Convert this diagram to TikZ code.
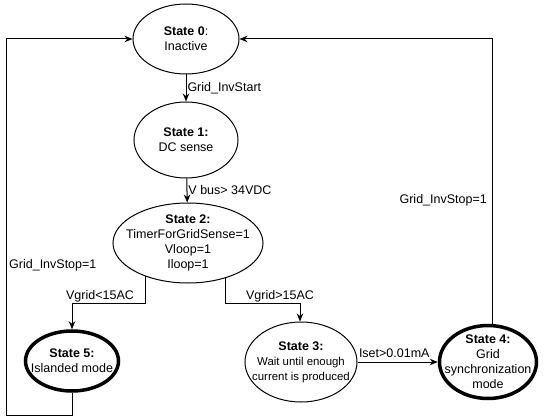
\documentclass[tikz,border=0pt]{standalone}
\usepackage{fontspec}
\setmainfont{Liberation Sans}
\usepackage{tikz}
\usetikzlibrary{arrows.meta, shapes.geometric, positioning, calc}
\tikzset{
	state/.style={ellipse, draw, line width=1pt, fill=white, align=center, inner xsep=-20pt, inner ysep=-12pt, font=\fontsize{12.5}{15}\selectfont},
	thickstate/.style={state, line width=3.5pt},
	line/.style={draw, line width=1pt, -{Stealth[length=8pt, width=6.5pt]}},
	lbl/.style={font=\fontsize{12.5}{15}\selectfont, inner sep=1pt}
}

\begin{document}
\begin{tikzpicture}[x=1pt, y=-1pt]
		% Page size of the reference
		\useasboundingbox (0,0) rectangle (550,420);
		
		% States of the inverter
		\node[state, minimum width=106pt, minimum height=70pt] (s0) at (186,39) {\textbf{State 0}:\\Inactive};
		\node[state, minimum width=104pt, minimum height=76pt] (s1) at (186,140) {\textbf{State 1:}\\DC sense};
		\node[state, minimum width=150pt, minimum height=80pt] (s2) at (188,243) {\textbf{State 2:}\\TimerForGridSense=1\\Vloop=1\\Iloop=1};
		\node[thickstate, minimum width=93pt, minimum height=60pt] (s5) at (72,361) {\textbf{State 5:}\\Islanded mode};
		\node[state, minimum width=112pt, minimum height=80pt] (s3) at (301,362) {\textbf{State 3:}\\{\fontsize{11.4}{14}\selectfont Wait until enough}\\{\fontsize{11.4}{14}\selectfont current is produced}};
		\node[thickstate, minimum width=97pt, minimum height=73pt] (s4) at (488,362) {\textbf{State 4:}\\Grid\\synchronization\\mode};
		
		% Bends of the connectors
		\coordinate (k5) at (72,303);
		\coordinate (k3) at (300,303);
		\coordinate (b5) at (6,415);
		
		% Transitions
		\draw[line] (s0) -- (s1) node[lbl, midway, right] {Grid\_InvStart};
		\draw[line] (s1) -- (s2) node[lbl, midway, right] {V bus> 34VDC};
		\draw[line] (s2.218) |- (k5) -- (k5 |- s5.north);
		\node[lbl, above] (l5) at (100,303) {Vgrid<15AC};
		\draw[line] (s2.-43) |- (k3) -- (k3 |- s3.north);
		\node[lbl, above] (l3) at (280,303) {Vgrid>15AC};
		\draw[line] (s3) -- (s4) node[lbl, pos=0, above right, yshift=3pt] {Iset>0.01mA};
		
		% Back to the inactive state
		\draw[line] (s4.84) |- (s0.east);
		\node[lbl, anchor=east] (r4) at (488,200) {Grid\_InvStop=1};
		\draw[line] (s5.south) |- (b5) |- (s0.west);
		\node[lbl, anchor=west] (r5) at (8,265) {Grid\_InvStop=1};
		
	\end{tikzpicture}
\end{document}
